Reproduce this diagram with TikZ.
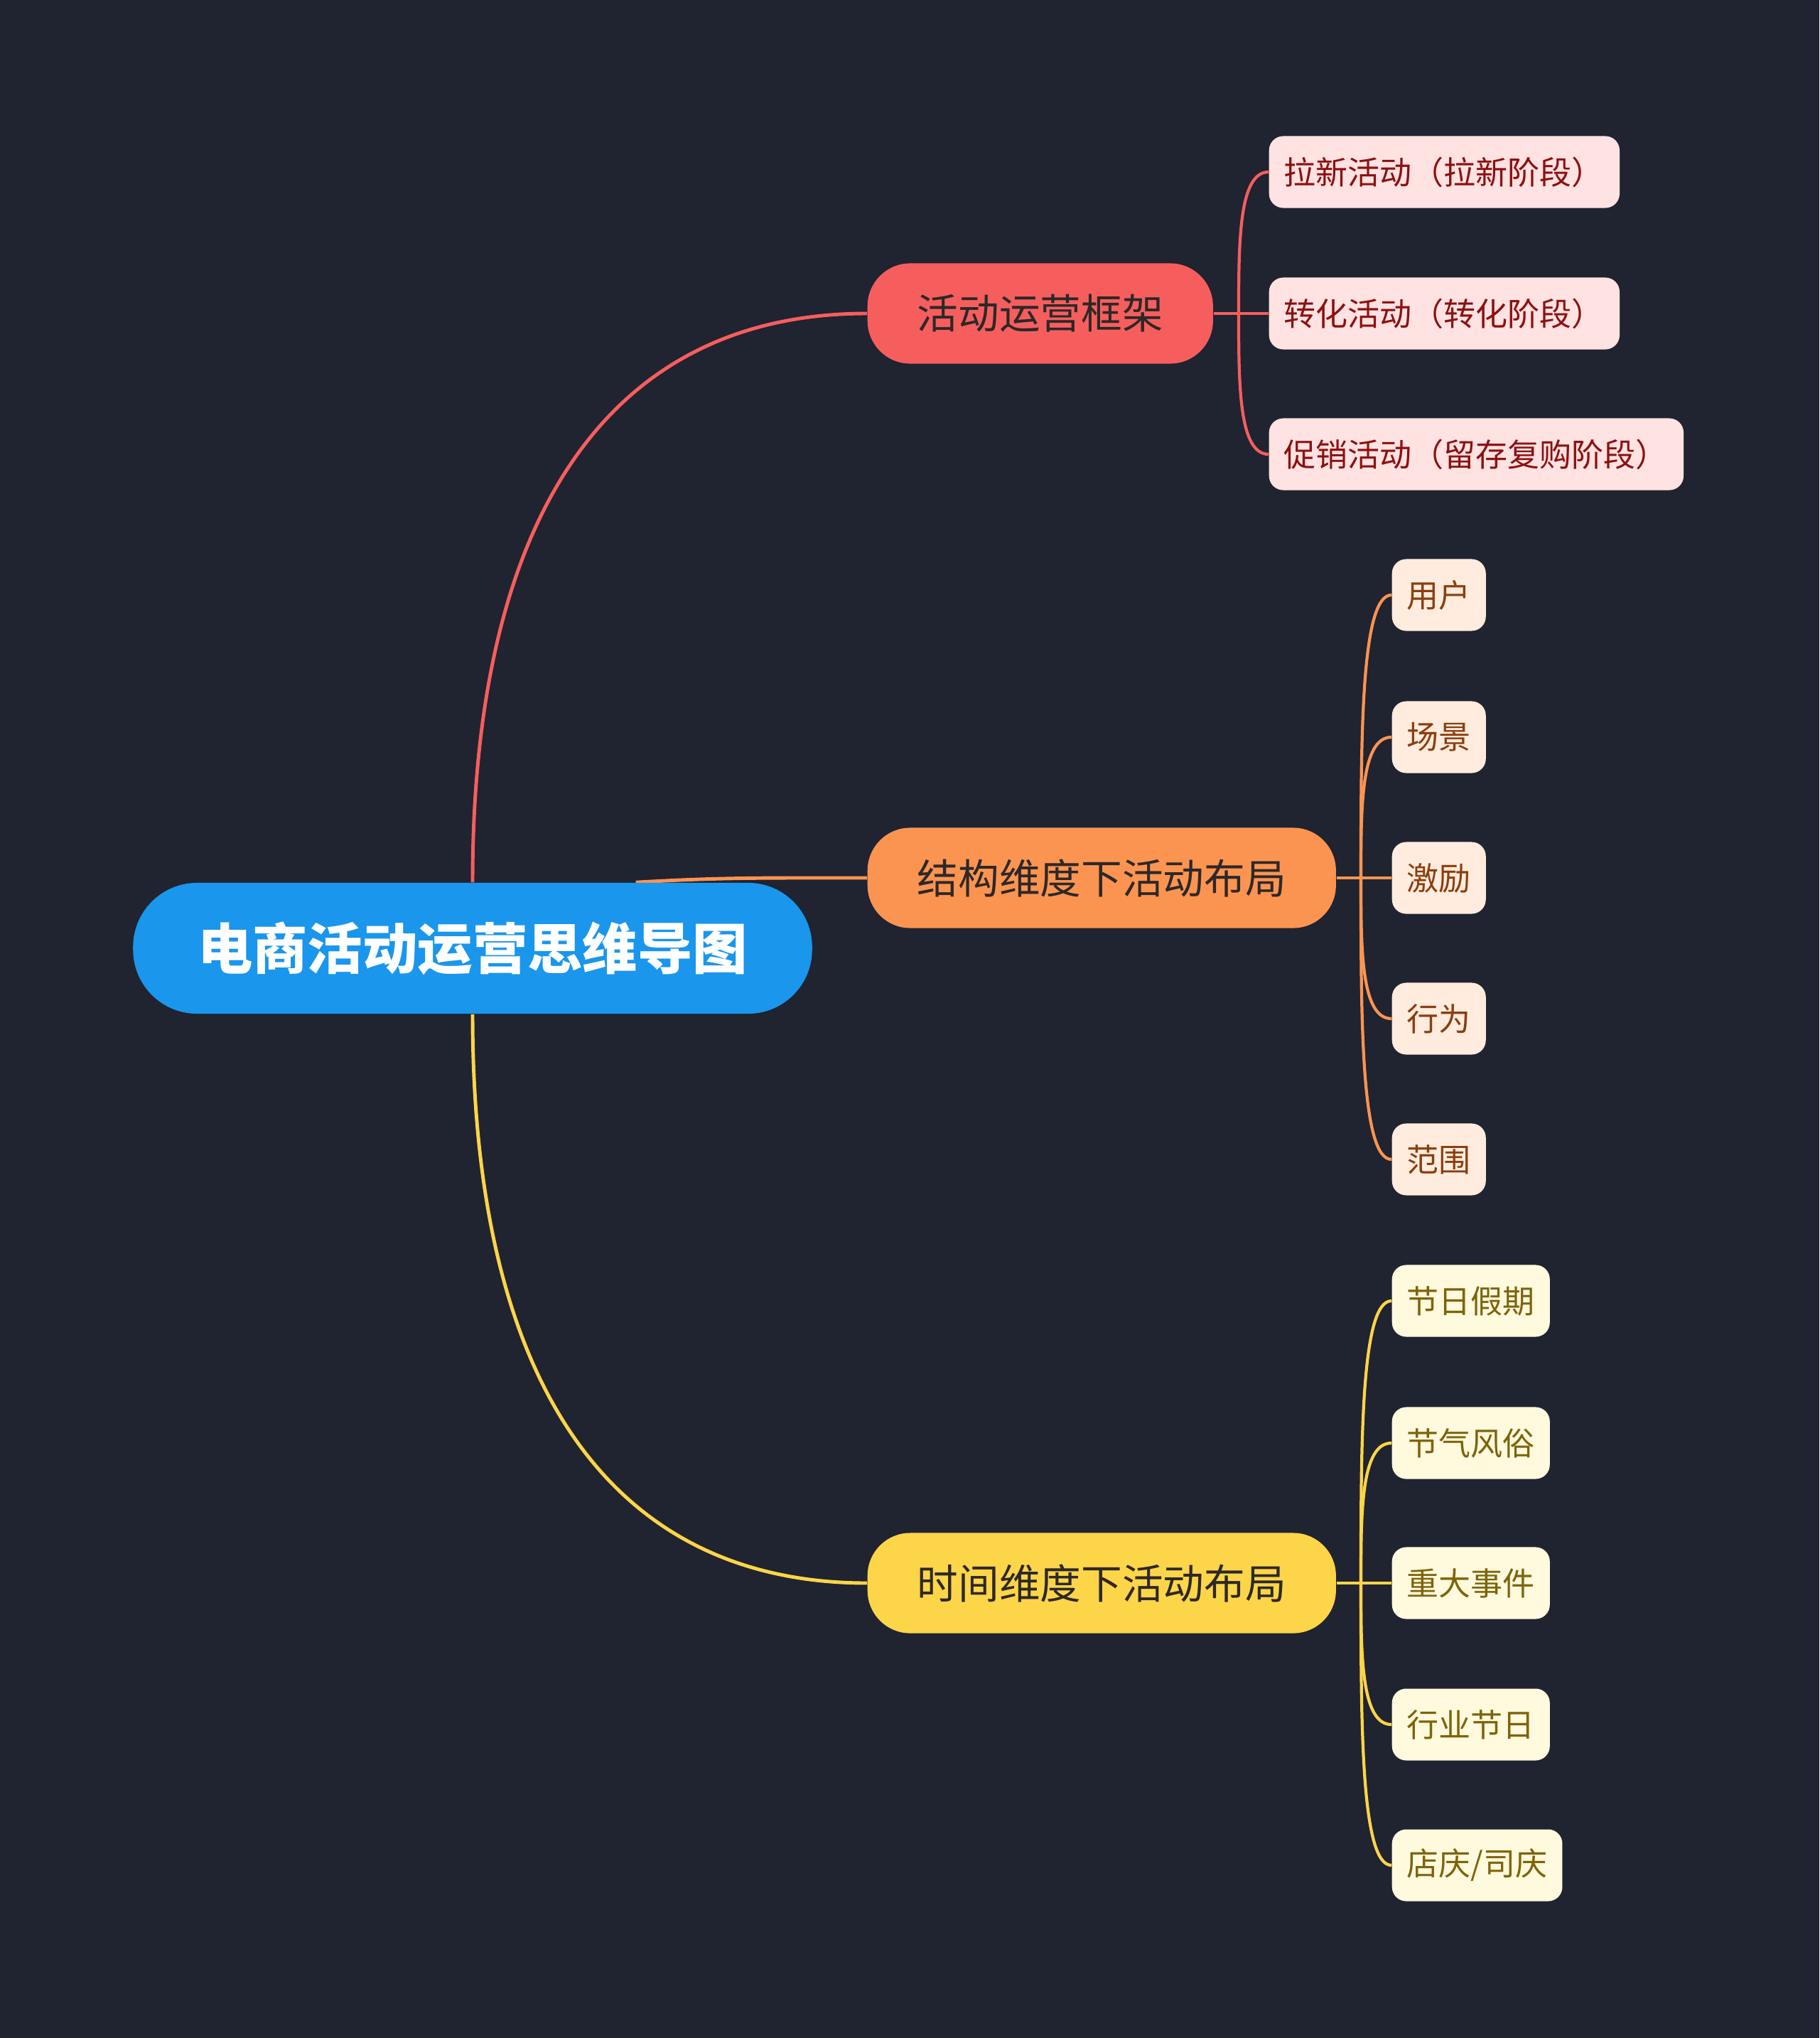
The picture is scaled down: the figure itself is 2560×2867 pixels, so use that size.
\documentclass[tikz,border=0pt]{standalone}
\usepackage{fontspec}
\setmainfont{Noto Sans CJK SC}
\usetikzlibrary{calc,backgrounds}

\definecolor{bgdark}{RGB}{32,35,48}
\definecolor{rootblue}{RGB}{26,150,236}
\definecolor{redmain}{RGB}{246,94,94}
\definecolor{orangemain}{RGB}{252,148,81}
\definecolor{yellowmain}{RGB}{253,213,72}
\definecolor{redleaf}{RGB}{255,226,226}
\definecolor{orangeleaf}{RGB}{255,236,222}
\definecolor{yellowleaf}{RGB}{255,249,222}
\definecolor{redtext}{RGB}{140,16,16}
\definecolor{orangetext}{RGB}{138,62,14}
\definecolor{yellowtext}{RGB}{125,100,10}
\definecolor{topictext}{RGB}{45,40,40}

\begin{document}
\begin{tikzpicture}[x=0.01cm, y=-0.01cm,
    root/.style={fill=rootblue, rounded corners=0.9cm, minimum width=9.55cm, minimum height=1.84cm, inner sep=0pt, text=white, font=\fontsize{22}{24}\selectfont\bfseries},
    topic/.style={anchor=west, rounded corners=0.6cm, minimum height=1.41cm, inner ysep=0pt, inner xsep=0.7cm, text=topictext, font=\fontsize{16.4}{19}\selectfont},
    leaf/.style={anchor=west, rounded corners=0.2cm, minimum height=1.01cm, inner ysep=0pt, inner xsep=0.21cm, font=\fontsize{12.8}{15}\selectfont},
    lnk/.style={line width=1.4pt},
    sub/.style={line width=1.2pt}
]
\useasboundingbox (0,0) rectangle (2560,2867);

\node[root] (root) at (665,1334) {电商活动运营思维导图};

\node[topic, fill=redmain] (b1) at (1220,441) {活动运营框架};
\node[topic, fill=orangemain] (b2) at (1220,1235) {结构维度下活动布局};
\node[topic, fill=yellowmain] (b3) at (1220,2227) {时间维度下活动布局};

% leaves of the first topic
\node[leaf, fill=redleaf, text=redtext, text width=4.51cm, align=left] (r1) at (1785,242) {拉新活动（拉新阶段）};
\node[leaf, fill=redleaf, text=redtext, text width=4.51cm, align=left] (r2) at (1785,441) {转化活动（转化阶段）};
\node[leaf, fill=redleaf, text=redtext, text width=5.41cm, align=left] (r3) at (1785,639) {促销活动（留存复购阶段）};

% leaves of the second topic
\node[leaf, fill=orangeleaf, text=orangetext] (o1) at (1958,837) {用户};
\node[leaf, fill=orangeleaf, text=orangetext] (o2) at (1958,1037) {场景};
\node[leaf, fill=orangeleaf, text=orangetext] (o3) at (1958,1235) {激励};
\node[leaf, fill=orangeleaf, text=orangetext] (o4) at (1958,1433) {行为};
\node[leaf, fill=orangeleaf, text=orangetext] (o5) at (1958,1631) {范围};

% leaves of the third topic
\node[leaf, fill=yellowleaf, text=yellowtext] (y1) at (1958,1830) {节日假期};
\node[leaf, fill=yellowleaf, text=yellowtext] (y2) at (1958,2030) {节气风俗};
\node[leaf, fill=yellowleaf, text=yellowtext] (y3) at (1958,2227) {重大事件};
\node[leaf, fill=yellowleaf, text=yellowtext] (y4) at (1958,2426) {行业节日};
\node[leaf, fill=yellowleaf, text=yellowtext] (y5) at (1958,2624) {店庆/司庆};

\coordinate (j1) at (1743,441);
\coordinate (j2) at (1915,1235);
\coordinate (j3) at (1915,2227);

\begin{scope}[on background layer]
\fill[bgdark] (0,0) rectangle (2560,2867);

\draw[lnk, redmain] (root.north) .. controls +(0,-520) and +(-360,0) .. (b1.west);
\draw[lnk, orangemain] ($(root.north)!0.48!(root.north east)$) .. controls +(120,-7) and +(-150,0) .. (b2.west);
\draw[lnk, yellowmain] (root.south) .. controls +(0,520) and +(-360,0) .. (b3.west);

\draw[sub, redmain] (b1.east) -- (j1);
\draw[sub, orangemain] (b2.east) -- (j2);
\draw[sub, yellowmain] (b3.east) -- (j3);

\foreach \l in {r1,r2,r3}
  \draw[sub, redmain] (j1) .. controls ($(j1)!.5!(j1 |- \l.west)$) and (j1 |- \l.west) .. (\l.west);
\foreach \l in {o1,o2,o3,o4,o5}
  \draw[sub, orangemain] (j2) .. controls ($(j2)!.5!(j2 |- \l.west)$) and (j2 |- \l.west) .. (\l.west);
\foreach \l in {y1,y2,y3,y4,y5}
  \draw[sub, yellowmain] (j3) .. controls ($(j3)!.5!(j3 |- \l.west)$) and (j3 |- \l.west) .. (\l.west);
\end{scope}
\end{tikzpicture}
\end{document}
